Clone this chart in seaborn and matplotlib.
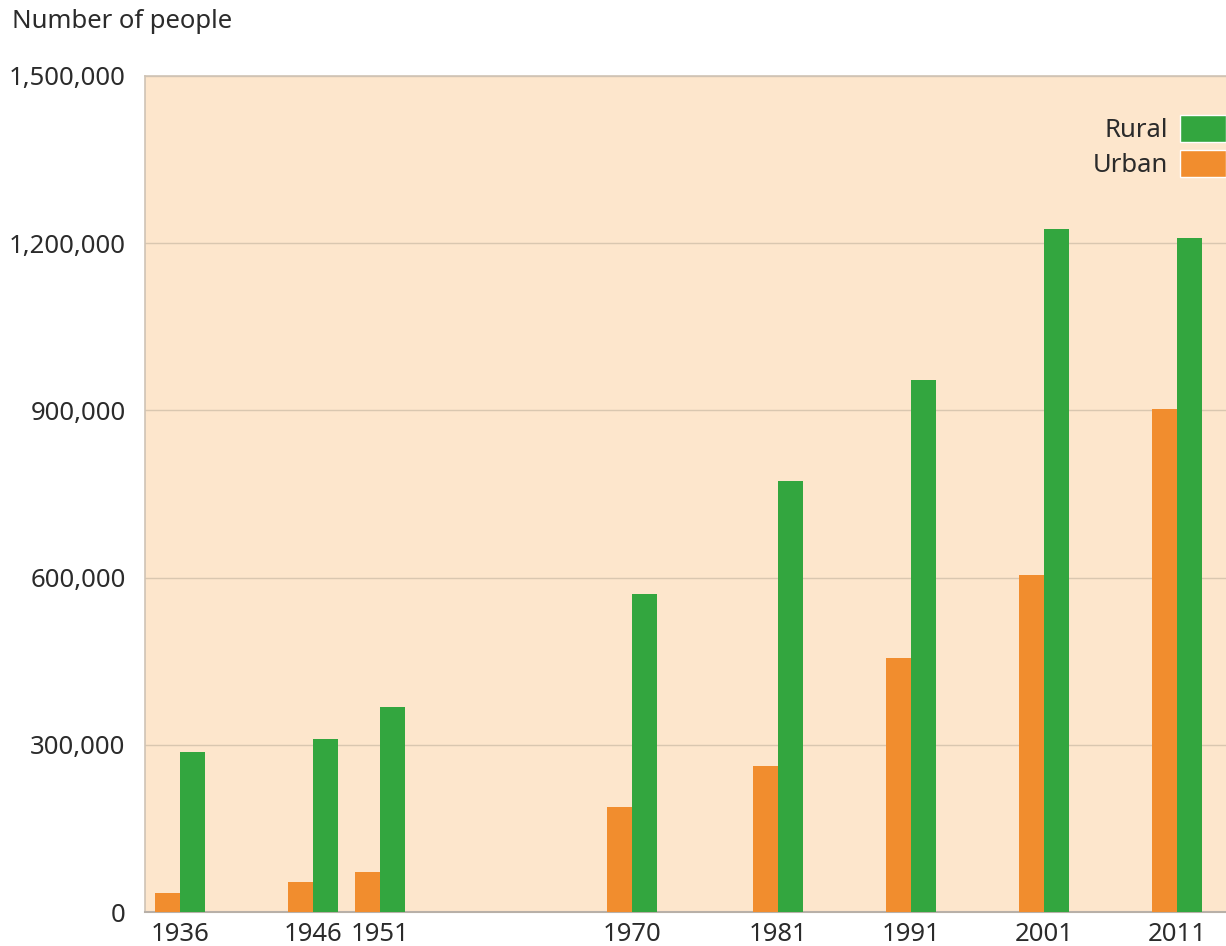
import pandas as pd
import matplotlib
matplotlib.use("Agg")
import matplotlib.pyplot as plt
from matplotlib.patches import Patch
import seaborn as sns

# census years and population
years = [1936, 1946, 1951, 1970, 1981, 1991, 2001, 2011]
urban = [34000, 54000, 71000, 189000, 262000, 456000, 604000, 903000]
rural = [288000, 311000, 368000, 571000, 774000, 954000, 1226000, 1209000]
y_ticks = [0, 300000, 600000, 900000, 1200000, 1500000]

GREEN = "#33a63f"
ORANGE = "#f18d2e"
BG = "#fde6cc"
TEXT = "#2b2b2b"
FS = 18.5

df = pd.DataFrame({
    "year": years * 2,
    "people": urban + rural,
    "area": ["Urban"] * len(years) + ["Rural"] * len(years),
})

sns.set_style("white")
plt.rcParams["font.family"] = ["Noto Sans", "DejaVu Sans"]

fig = plt.figure(figsize=(12.26, 9.46), dpi=100)
ax = fig.add_axes([0.1183, 0.0359, 0.8817, 0.8838])
ax.set_facecolor(BG)

sns.barplot(data=df, x="year", y="people", hue="area",
            hue_order=["Urban", "Rural"], palette=[ORANGE, GREEN],
            saturation=1, native_scale=True, width=0.752, errorbar=None,
            linewidth=0, ax=ax, zorder=3)

ax.set_xlim(1933.34, 2014.69)
ax.set_ylim(0, 1500000)

ax.set_yticks(y_ticks)
ax.set_yticklabels([f"{v:,}" for v in y_ticks])
ax.set_xticks(years)
ax.set_xticklabels([str(y) for y in years])
ax.tick_params(axis="y", length=0, pad=14, labelsize=FS, labelcolor=TEXT)
ax.tick_params(axis="x", length=0, pad=7, labelsize=FS, labelcolor=TEXT)

ax.yaxis.grid(True, color="#d9c7b0", linewidth=1.0, zorder=0)
ax.xaxis.grid(False)
ax.set_axisbelow(True)

for side in ["top", "left"]:
    ax.spines[side].set_color("#cfc3b5")
    ax.spines[side].set_linewidth(1.2)
ax.spines["bottom"].set_color("#b8b0a8")
ax.spines["bottom"].set_linewidth(1.5)
ax.spines["right"].set_visible(False)

ax.set_xlabel("")
ax.set_ylabel("")
fig.text(0.01, 0.977, "Number of people", fontsize=FS, color=TEXT,
         ha="left", va="center")

ax.get_legend().remove()
handles = [Patch(facecolor=GREEN, label="Rural"),
           Patch(facecolor=ORANGE, label="Urban")]
ax.legend(handles=handles, loc="upper right", bbox_to_anchor=(1.0, 0.953),
          frameon=False, markerfirst=False, fontsize=FS,
          handlelength=1.8, handleheight=1.25, handletextpad=0.45,
          labelspacing=0.25, borderaxespad=0, borderpad=0,
          labelcolor=TEXT)

fig.savefig("out.png", dpi=100)
